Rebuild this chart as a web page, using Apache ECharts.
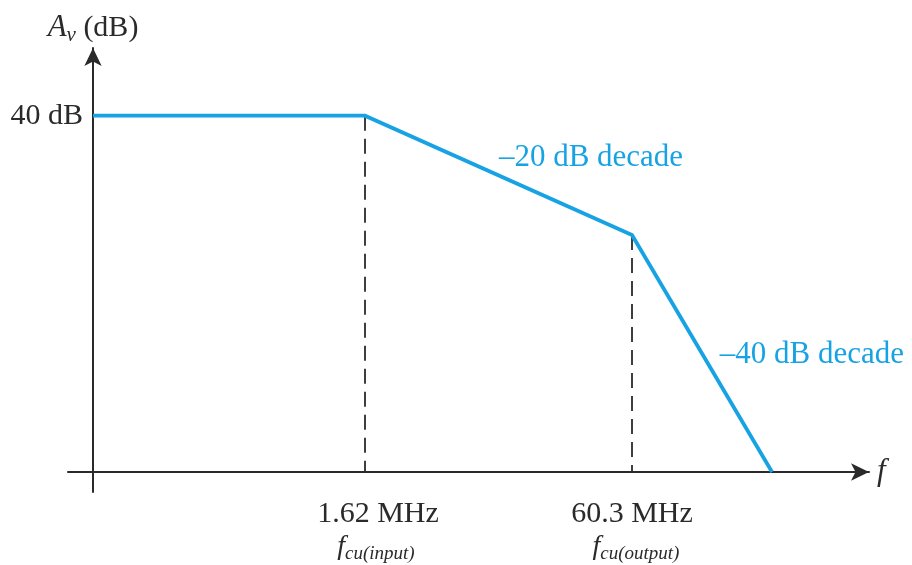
<!DOCTYPE html>
<html>
<head>
<meta charset="utf-8">
<script src="https://cdn.jsdelivr.net/npm/echarts@6/dist/echarts.min.js"></script>
<style>
  html, body { margin: 0; padding: 0; background: #ffffff; }
  #chart { width: 912px; height: 565px; }
</style>
</head>
<body>
<div id="chart"></div>
<script>
// Bode magnitude plot (asymptotic) of the amplifier gain
const freqMHz = [0.0407, 1.62, 60.3, 402];     // corner points along f
const gainDb  = [40, 40, 26.6, 0];             // A_v in dB at those points
const cutoffFreqs = [1.62, 60.3];              // f_cu(input), f_cu(output)
const cutoffNames = ['input', 'output'];
const yTickValues = [40];
const slopeNotes = ['\u201320 dB decade', '\u201340 dB decade'];

const SERIF = '"Liberation Serif", "Times New Roman", serif';
const BLUE = '#17a2e4';
const INK = '#2a2a2a';

const chart = echarts.init(document.getElementById('chart'));

function cutoffIndex(v) {
  let best = 0;
  cutoffFreqs.forEach((f, i) => {
    if (Math.abs(Math.log(f) - Math.log(v)) < Math.abs(Math.log(cutoffFreqs[best]) - Math.log(v))) best = i;
  });
  return best;
}

const lineData = freqMHz.map((f, i) => [f, gainDb[i]]);

const dropLines = cutoffFreqs.map(f => {
  const i = freqMHz.indexOf(f);
  return [{ coord: [f, gainDb[i]] }, { coord: [f, 0] }];
});

chart.setOption({
  animation: false,
  backgroundColor: '#ffffff',
  grid: { left: 68, right: 43, top: 48, bottom: 73, containLabel: false, outerBoundsMode: 'none' },
  xAxis: {
    type: 'log',
    min: 0.029,
    max: 1495,
    name: 'f',
    nameLocation: 'end',
    nameGap: 8,
    nameTextStyle: { fontFamily: SERIF, fontStyle: 'italic', fontSize: 31, color: INK, verticalAlign: 'middle' },
    axisLine: {
      onZero: true,
      symbol: ['none', 'arrow'],
      symbolSize: [13, 18],
      lineStyle: { color: INK, width: 2 }
    },
    axisTick: { show: false },
    splitLine: { show: false },
    minorTick: { show: false },
    axisLabel: {
      customValues: cutoffFreqs,
      margin: 4,
      formatter: function (v) {
        const i = cutoffIndex(v);
        const p = i === 0 ? '0' : '1';
        return '{m' + p + '|' + cutoffFreqs[i] + ' MHz}\n{f' + p + '|f}{s|cu(' + cutoffNames[i] + ')}';
      },
      rich: {
        m0: { fontFamily: SERIF, fontSize: 30, color: INK, lineHeight: 36, padding: [0, 0, 0, 26] },
        m1: { fontFamily: SERIF, fontSize: 30, color: INK, lineHeight: 36 },
        f0: { fontFamily: SERIF, fontStyle: 'italic', fontSize: 28, color: INK, lineHeight: 30, padding: [0, 0, 0, 22] },
        f1: { fontFamily: SERIF, fontStyle: 'italic', fontSize: 28, color: INK, lineHeight: 30, padding: [0, 0, 0, 8] },
        s: { fontFamily: SERIF, fontStyle: 'italic', fontSize: 19, color: INK, lineHeight: 19, padding: [14, 0, 0, 0] }
      }
    }
  },
  yAxis: {
    type: 'value',
    min: -2.25,
    max: 47.6,
    offset: -25,
    name: '{a|A}{v|v}{b| (dB)}',
    nameLocation: 'end',
    nameGap: 5,
    nameTextStyle: {
      align: 'center',
      rich: {
        a: { fontFamily: SERIF, fontStyle: 'italic', fontSize: 31, color: INK, lineHeight: 30 },
        v: { fontFamily: SERIF, fontStyle: 'italic', fontSize: 21, color: INK, lineHeight: 20, padding: [14, 0, 0, 0] },
        b: { fontFamily: SERIF, fontSize: 30, color: INK, lineHeight: 30 }
      }
    },
    axisLine: {
      show: true,
      symbol: ['none', 'arrow'],
      symbolSize: [13, 18],
      lineStyle: { color: INK, width: 2 }
    },
    axisTick: { show: false },
    splitLine: { show: false },
    axisLabel: {
      customValues: yTickValues,
      margin: 10,
      fontFamily: SERIF,
      fontSize: 30,
      color: INK,
      formatter: '{value} dB'
    }
  },
  series: [{
    type: 'line',
    data: lineData,
    symbol: 'none',
    silent: true,
    lineStyle: { color: BLUE, width: 3.8, join: 'miter' },
    z: 3,
    markLine: {
      silent: true,
      symbol: ['none', 'none'],
      label: { show: false },
      lineStyle: { color: INK, width: 1.8, type: [15, 8] },
      data: dropLines,
      z: 2
    },
    markPoint: {
      silent: true,
      symbol: 'circle',
      symbolSize: 0,
      label: {
        show: true,
        position: 'inside',
        fontFamily: SERIF,
        fontSize: 31,
        color: BLUE
      },
      data: [
        { coord: [34.6, 35.25], value: slopeNotes[0], label: { formatter: slopeNotes[0] } },
        { coord: [690, 13.15], value: slopeNotes[1], label: { formatter: slopeNotes[1] } }
      ]
    }
  }]
});
</script>
</body>
</html>
